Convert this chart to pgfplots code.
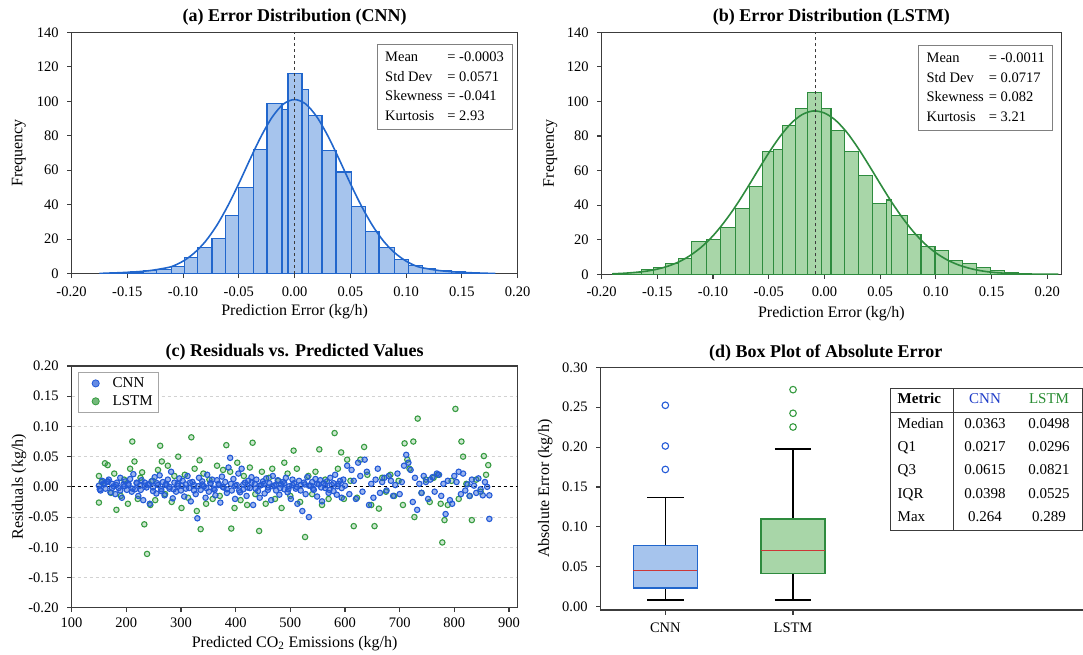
\documentclass[border=0pt]{standalone}
\usepackage{fontspec}
\setmainfont{Liberation Serif}
\usepackage{pgfplots}
\pgfplotsset{compat=1.18}
\usepgfplotslibrary{statistics}

\definecolor{cnnline}{RGB}{33,102,204}
\definecolor{cnnfill}{RGB}{166,196,237}
\definecolor{lstmline}{RGB}{46,139,62}
\definecolor{lstmfill}{RGB}{168,214,168}
\definecolor{cnnsc}{RGB}{35,90,215}
\definecolor{lstmsc}{RGB}{55,155,65}
\definecolor{medred}{RGB}{205,55,55}
\definecolor{framegray}{RGB}{60,60,60}
\definecolor{hdrblue}{RGB}{30,60,200}
\definecolor{hdrgreen}{RGB}{40,140,50}

\newcommand{\tickfont}{\fontsize{14.5}{16}\selectfont}
\newcommand{\labfont}{\fontsize{16}{18}\selectfont}
\newcommand{\boxfont}{\fontsize{14.5}{19.8}\selectfont}

\pgfplotsset{
  panel/.style={
    scale only axis, anchor=south west,
    tick pos=left, tick align=outside,
    major tick length=4.5pt,
    scaled ticks=false,
    axis line style={framegray, line width=1.1pt},
    every tick/.style={framegray, line width=1.1pt},
    tick label style={font=\tickfont},
    yticklabel style={xshift=-5pt},
    label style={font=\labfont},
    title style={font=\fontsize{18}{20}\selectfont\bfseries, anchor=center},
    /pgf/number format/assume math mode=true,
  },
  twodec/.style={/pgf/number format/.cd, fixed, fixed zerofill, precision=2, /tikz/.cd},
}

\begin{document}
\begin{tikzpicture}
\useasboundingbox (0pt,0pt) rectangle (1083pt,-655pt);

% ---------------- (a) CNN histogram
\begin{axis}[panel, at={(71.6pt,-273.7pt)}, width=446pt, height=241.4pt,
  xmin=-0.2, xmax=0.2, ymin=0, ymax=140,
  xtick={-0.2,-0.15,-0.1,-0.05,0,0.05,0.1,0.15,0.2},
  ytick={0,20,40,60,80,100,120,140},
  xticklabel style={twodec, yshift=-5pt},
  title={(a) Error Distribution (CNN)},
  title style={at={(axis description cs:0.5,1.0373)}},
  xlabel={Prediction Error (kg/h)},
  xlabel style={at={(axis description cs:0.5,-0.157)}, anchor=center},
  ylabel={Frequency},
  ylabel style={at={(axis description cs:-0.118,0.5)}, anchor=center},
]
\addplot[ybar interval, fill=cnnfill, draw=cnnline, line width=1.1pt] coordinates {
(-0.173,0.3) (-0.158,0.6) (-0.1475,1.0) (-0.1355,1.6) (-0.1235,2.5) (-0.1107,4.2)
(-0.0987,9.5) (-0.0867,15) (-0.0741,20.3) (-0.0622,34) (-0.0503,50.2) (-0.0368,71.8)
(-0.0248,98.5) (-0.0113,95.4) (-0.0059,116.2) (0.0066,107) (0.0126,92) (0.0246,71.4)
(0.0371,59) (0.051,38.9) (0.0634,24.5) (0.0757,15.3) (0.0897,8.3) (0.102,5)
(0.1144,2.9) (0.1267,2.1) (0.1407,1.2) (0.153,0.6) (0.1654,0.3) (0.1793,0)};
\addplot[cnnline, line width=1.6pt, smooth] coordinates {
(-0.175,0.1) (-0.17,0.3) (-0.16,0.5) (-0.15,0.8) (-0.14,1.2) (-0.13,1.8) (-0.12,2.8)
(-0.11,4.2) (-0.10,7.3) (-0.09,12.0) (-0.08,18.7) (-0.07,27.8) (-0.06,39.2) (-0.05,52.3)
(-0.04,66.3) (-0.03,79.7) (-0.02,90.9) (-0.01,98.4) (0,101) (0.01,98.4) (0.02,90.9)
(0.03,79.7) (0.04,66.3) (0.05,52.3) (0.06,39.2) (0.07,27.8) (0.08,18.7) (0.09,12.0)
(0.10,7.3) (0.11,4.2) (0.12,2.8) (0.13,1.8) (0.14,1.2) (0.15,0.8) (0.16,0.5)
(0.17,0.3) (0.18,0.1)};
\addplot[framegray, dashed, line width=0.9pt] coordinates {(-0.0003,0) (-0.0003,140)};
\end{axis}
\node[draw=gray, fill=white, line width=0.8pt, anchor=north east, inner xsep=8pt,
  inner ysep=3pt, font=\boxfont] at (512.3pt,-44pt) {%
  \begin{tabular}{@{}l@{\hspace{5pt}}l@{}}
  Mean & = -0.0003\\ Std Dev & = 0.0571\\ Skewness & = -0.041\\ Kurtosis & = 2.93
  \end{tabular}};

% ---------------- (b) LSTM histogram
\begin{axis}[panel, at={(601.6pt,-274.3pt)}, width=459.6pt, height=242pt,
  xmin=-0.2, xmax=0.2125, ymin=0, ymax=140,
  xtick={-0.2,-0.15,-0.1,-0.05,0,0.05,0.1,0.15,0.2},
  ytick={0,20,40,60,80,100,120,140},
  xticklabel style={twodec, yshift=-5pt},
  title={(b) Error Distribution (LSTM)},
  title style={at={(axis description cs:0.5,1.0372)}},
  xlabel={Prediction Error (kg/h)},
  xlabel style={at={(axis description cs:0.5,-0.161)}, anchor=center},
  ylabel={Frequency},
  ylabel style={at={(axis description cs:-0.1114,0.5)}, anchor=center},
]
\addplot[ybar interval, fill=lstmfill, draw=lstmline, line width=1.1pt] coordinates {
(-0.19,0.4) (-0.1765,1.2) (-0.164,3) (-0.1535,4) (-0.143,6) (-0.131,9) (-0.119,19)
(-0.1056,20) (-0.093,27) (-0.0795,38) (-0.067,51) (-0.0553,71) (-0.046,72) (-0.0373,86)
(-0.0257,96) (-0.0153,105) (-0.0023,96) (0.0059,83) (0.0183,71) (0.0308,57) (0.0432,41)
(0.0557,43) (0.0603,34) (0.0743,23) (0.0867,16) (0.0992,14) (0.1116,8) (0.124,6)
(0.1365,4) (0.149,2) (0.1614,1) (0.1738,0.5) (0.1862,0)};
\addplot[lstmline, line width=1.6pt, smooth] coordinates {
(-0.19,0.3) (-0.18,0.6) (-0.17,1.1) (-0.16,1.8) (-0.15,3.0) (-0.14,4.8) (-0.13,7.4)
(-0.12,11.1) (-0.11,16.0) (-0.10,22.3) (-0.09,30.1) (-0.08,39.1) (-0.07,49.2) (-0.06,59.8)
(-0.05,70.2) (-0.04,79.6) (-0.03,87.3) (-0.02,92.4) (-0.01,94.5) (0,93.3) (0.01,89.1)
(0.02,82.2) (0.03,73.2) (0.04,63.0) (0.05,52.4) (0.06,42.1) (0.07,32.7) (0.08,24.5)
(0.09,17.7) (0.10,12.4) (0.11,8.4) (0.12,5.5) (0.13,3.5) (0.14,2.1) (0.15,1.2)
(0.16,0.7) (0.17,0.4) (0.18,0.2) (0.19,0.1) (0.20,0.05) (0.21,0.02)};
\addplot[framegray, dashed, line width=0.9pt] coordinates {(-0.008,0) (-0.008,140)};
\end{axis}
\node[draw=gray, fill=white, line width=0.8pt, anchor=north east, inner xsep=8pt,
  inner ysep=3pt, font=\boxfont] at (1053.2pt,-45pt) {%
  \begin{tabular}{@{}l@{\hspace{5pt}}l@{}}
  Mean & = -0.0011\\ Std Dev & = 0.0717\\ Skewness & = 0.082\\ Kurtosis & = 3.21
  \end{tabular}};

% ---------------- (c) residual scatter
\begin{axis}[panel, at={(71.6pt,-607.7pt)}, width=446pt, height=241.7pt,
  xmin=100, xmax=915.7, ymin=-0.2, ymax=0.2,
  xtick={100,200,300,400,500,600,700,800,900},
  ytick={-0.2,-0.15,-0.1,-0.05,0,0.05,0.1,0.15,0.2},
  xticklabel style={yshift=-2pt},
  yticklabel style={twodec},
  ymajorgrids, grid style={dashed, gray!35, line width=0.8pt},
  title={(c) Residuals vs. Predicted Values},
  title style={at={(axis description cs:0.5,1.0343)}},
  xlabel={Predicted CO\textsubscript{2} Emissions (kg/h)},
  xlabel style={at={(axis description cs:0.5,-0.147)}, anchor=center},
  ylabel={Residuals (kg/h)},
  ylabel style={at={(axis description cs:-0.118,0.5)}, anchor=center},
  legend style={at={(0.015,0.974)}, anchor=north west, draw=gray!70, line width=0.8pt,
    font=\fontsize{15}{17}\selectfont, inner xsep=2pt, inner ysep=3pt, row sep=2.5pt,
    nodes={inner xsep=4pt}},
  legend cell align=left,
]
\addlegendimage{legend image code/.code={%
  \path[draw=none, fill=none] (0pt,0pt) -- (28pt,0pt);
  \draw[draw=cnnsc, fill=cnnsc!70, line width=0.8pt] (15pt,0pt) circle (3.6pt);}}
\addlegendentry{CNN}
\addlegendimage{legend image code/.code={%
  \path[draw=none, fill=none] (0pt,0pt) -- (28pt,0pt);
  \draw[draw=lstmsc, fill=lstmsc!70, line width=0.8pt] (15pt,0pt) circle (3.6pt);}}
\addlegendentry{LSTM}
\addplot[only marks, mark=*, mark size=2.7pt, forget plot,
  mark options={draw=lstmsc, fill=lstmsc, fill opacity=0.25, line width=1.1pt}] coordinates {
(150,0.018) (150,-0.026) (161,0.039) (182,-0.038) (211,0.075) (215,0.042) (233,-0.062)
(238,-0.111) (262,0.068) (265,0.042) (295,0.050) (319,0.082) (334,0.044) (336,-0.070)
(383,0.069) (390,0.025) (392,-0.069) (431,0.073) (443,-0.073) (489,0.040) (506,0.060)
(527,-0.083) (553,0.062) (581,0.089) (593,0.057) (616,-0.065) (635,0.066) (654,-0.065)
(706,-0.030) (709,0.072) (725,0.075) (727,-0.050) (733,0.113) (775,-0.028) (778,-0.092)
(782,-0.055) (802,0.129) (813,0.075) (816,0.050) (832,-0.055) (854,0.051) (862,0.036)
(155,0.008) (166,0.036) (172,-0.010) (178,0.022) (190,-0.015) (196,0.012) (203,-0.028)
(207,0.030) (221,-0.020) (226,0.015) (229,0.024) (244,-0.030) (248,0.010) (253,-0.022)
(258,0.028) (271,-0.012) (276,0.035) (283,-0.025) (288,0.018) (301,-0.035) (307,0.020)
(313,-0.018) (325,0.030) (329,-0.040) (341,0.022) (346,-0.028) (352,0.012) (358,-0.020)
(366,0.035) (371,-0.015) (377,0.028) (398,-0.035) (403,0.040) (409,-0.022) (415,0.018)
(421,-0.030) (426,0.032) (436,-0.012) (448,0.025) (455,-0.028) (461,0.015) (467,0.030)
(472,-0.020) (478,0.010) (484,-0.035) (495,0.022) (500,-0.015) (512,0.030) (518,-0.025)
(533,0.018) (540,-0.012) (546,0.025) (558,-0.030) (564,0.012) (570,-0.020) (587,0.030)
(598,-0.020) (604,0.045) (610,0.010) (622,-0.018) (628,0.045) (641,0.020) (648,-0.030)
(662,-0.036) (668,0.015) (675,-0.008) (683,0.020) (690,-0.015) (698,0.010) (714,0.045)
(718,0.030) (740,-0.010) (748,0.012) (755,-0.025) (762,0.015) (770,0.020) (788,-0.030)
(795,0.010) (808,-0.020) (822,0.005) (828,-0.015) (840,0.012) (848,-0.008) (858,0.020)};
\addplot[only marks, mark=*, mark size=2.7pt, forget plot,
  mark options={draw=cnnsc, fill=cnnsc, fill opacity=0.45, line width=1.1pt}] coordinates {
(150,0.002) (153,-0.006) (156,0.010) (159,0.004) (162,-0.003) (165,0.008) (168,0.012)
(171,-0.009) (174,0.005) (177,0.001) (180,-0.012) (183,0.007) (186,-0.002) (189,0.015)
(192,-0.018) (195,0.004) (198,0.009) (201,-0.005) (204,0.003) (207,0.013) (210,-0.008)
(213,0.021) (216,-0.004) (219,0.006) (222,-0.015) (225,0.002) (228,0.011) (231,-0.022)
(234,0.007) (237,-0.001) (240,0.004) (243,-0.028) (246,0.009) (249,-0.007) (252,0.016)
(255,-0.011) (258,0.003) (261,0.019) (264,-0.004) (267,0.008) (270,-0.014) (273,0.005)
(276,0.012) (279,-0.003) (282,0.025) (285,-0.019) (288,0.007) (291,-0.008) (294,0.002)
(297,0.014) (300,-0.006) (303,0.010) (306,-0.016) (309,0.004) (312,0.018) (315,-0.002)
(318,-0.024) (321,0.008) (324,0.003) (327,-0.012) (330,-0.052) (333,0.015) (336,-0.005)
(339,0.009) (342,0.001) (345,-0.018) (348,0.020) (351,-0.008) (354,0.006) (357,0.012)
(360,-0.003) (363,-0.014) (366,0.011) (369,0.005) (372,-0.026) (375,0.017) (378,-0.001)
(381,0.008) (384,-0.010) (387,0.032) (390,0.048) (393,-0.006) (396,0.013) (399,-0.020)
(402,0.003) (405,0.022) (408,-0.009) (411,0.030) (414,-0.004) (417,0.007) (420,-0.015)
(423,0.010) (426,-0.002) (429,0.016) (432,-0.030) (435,0.005) (438,0.012) (441,-0.007)
(444,-0.018) (447,0.003) (450,0.009) (453,-0.011) (456,0.014) (459,-0.001) (462,0.006)
(465,-0.022) (468,0.018) (471,0.002) (474,-0.006) (477,0.011) (480,-0.013) (483,0.004)
(486,0.008) (489,-0.004) (492,0.015) (495,-0.009) (498,0.001) (501,-0.020) (504,0.012)
(507,0.006) (510,-0.003) (513,-0.028) (516,0.010) (519,0.003) (522,-0.040) (525,0.007)
(528,-0.012) (531,0.016) (534,-0.050) (537,0.002) (540,0.008) (543,-0.005) (546,0.013)
(549,-0.016) (552,0.004) (555,0.011) (558,-0.024) (561,0.006) (564,-0.002) (567,0.009)
(570,-0.010) (573,0.015) (576,0.003) (579,-0.007) (582,0.020) (585,-0.013) (588,0.005)
(591,0.010) (594,-0.018) (597,0.012) (600,0.002)
(604,0.035) (608,-0.012) (612,0.028) (616,0.010) (620,-0.020) (624,0.040) (628,0.018)
(632,-0.008) (636,0.045) (640,0.025) (644,-0.030) (648,0.005) (652,-0.018) (656,0.012)
(660,0.030) (664,-0.010) (668,0.008) (672,0.015) (676,-0.006) (680,0.018) (684,0.010)
(688,-0.015) (692,0.003) (696,0.022) (700,-0.012) (704,0.008) (708,0.035) (712,0.053)
(716,0.040) (720,0.028) (724,-0.025) (728,0.015) (732,-0.038) (736,0.005) (740,-0.010)
(744,0.018) (748,0.008) (752,-0.020) (756,0.012) (760,0.016) (764,-0.008) (768,0.022)
(772,0.020) (776,-0.015) (780,0.005) (784,-0.045) (788,0.010) (792,-0.022) (796,-0.028)
(800,0.018) (804,0.008) (808,0.025) (812,-0.012) (816,0.022) (820,-0.006) (824,0.004)
(828,-0.015) (832,0.012) (836,0.002) (840,-0.010) (844,0.014) (848,-0.004) (852,-0.014)
(856,0.008) (860,0.000) (864,-0.053) (864,-0.014)
(151.5,-0.004) (159,0.006) (166.5,0.009) (174,-0.002) (181.5,0.003) (189,-0.006)
(196.5,0.001) (204,0.005) (211.5,-0.003) (219,0.007) (226.5,-0.005) (234,0.002)
(241.5,0.004) (249,-0.001) (256.5,0.006) (264,-0.007) (271.5,0.003) (279,0.000)
(286.5,-0.004) (294,0.005) (301.5,0.002) (309,-0.003) (316.5,0.007) (324,-0.006)
(331.5,0.001) (339,0.004) (346.5,-0.002) (354,0.006) (361.5,-0.005) (369,0.003)
(376.5,0.000) (384,-0.004) (391.5,0.005) (399,0.002) (406.5,-0.006) (414,0.004)
(421.5,-0.001) (429,0.007) (436.5,-0.003) (444,0.002) (451.5,0.005) (459,-0.005)
(466.5,0.001) (474,0.004) (481.5,-0.002) (489,0.006) (496.5,-0.004) (504,0.003)
(511.5,0.000) (519,-0.006) (526.5,0.004) (534,0.002) (541.5,-0.003) (549,0.005)
(556.5,-0.001) (564,0.003) (571.5,-0.005) (579,0.006) (586.5,0.001) (594,-0.002)};
\addplot[black, dashed, line width=1.1pt, forget plot] coordinates {(100,0) (915.7,0)};
\end{axis}

% ---------------- (d) box plot
\begin{axis}[panel, at={(600.6pt,-610pt)}, width=499.4pt, height=242.7pt,
  xmin=0.493, xmax=4.404, ymin=-0.0041, ymax=0.3,
  xtick={1,2}, xticklabels={CNN,LSTM},
  xticklabel style={yshift=-5pt},
  ytick={0,0.05,0.1,0.15,0.2,0.25,0.3},
  yticklabel style={twodec},
  title={(d) Box Plot of Absolute Error},
  title style={at={(axis description cs:0.4507,1.033)}},
  ylabel={Absolute Error (kg/h)},
  ylabel style={at={(axis description cs:-0.111,0.5)}, anchor=center},
  boxplot/draw direction=y,
]
\addplot+[boxplot prepared={draw position=1, lower whisker=0.0084, lower quartile=0.0234,
    median=0.0451, upper quartile=0.0769, upper whisker=0.137,
    box extend=0.5, whisker extend=0.285},
  solid, draw=cnnline, fill=cnnfill, line width=1.3pt, mark=none,
  boxplot/every whisker/.style={draw=black, line width=1.2pt},
  boxplot/every median/.style={draw=medred, line width=1pt}]
  coordinates {};
\addplot+[boxplot prepared={draw position=2, lower whisker=0.0084, lower quartile=0.0418,
    median=0.0702, upper quartile=0.1099, upper whisker=0.1977,
    box extend=0.5, whisker extend=0.285},
  solid, draw=lstmline, fill=lstmfill, line width=1.3pt, mark=none,
  boxplot/every whisker/.style={draw=black, line width=1.2pt},
  boxplot/every median/.style={draw=medred, line width=1pt}]
  coordinates {};
\addplot[only marks, mark=o, mark size=3.3pt, mark options={draw=cnnsc, line width=1.1pt}]
  coordinates {(1,0.172) (1,0.2014) (1,0.2524)};
\addplot[only marks, mark=o, mark size=3.3pt, mark options={draw=lstmsc, line width=1.1pt}]
  coordinates {(2,0.2252) (2,0.2424) (2,0.272)};
\end{axis}

% summary table in (d)
\begin{scope}[font=\fontsize{15}{17}\selectfont]
\fill[white] (890.5pt,-388.3pt) rectangle (1082.3pt,-530.7pt);
\draw[framegray, line width=1.1pt] (890.5pt,-388.3pt) rectangle (1082.3pt,-530.7pt);
\draw[framegray, line width=1.1pt] (953.3pt,-388.3pt) -- (953.3pt,-530.7pt);
\draw[framegray, line width=1.1pt] (890.5pt,-412.7pt) -- (1082.3pt,-412.7pt);
\node[anchor=mid west, inner sep=0pt] at (897.5pt,-401.7pt) {\textbf{Metric}};
\node[anchor=mid, inner sep=0pt, text=hdrblue] at (985pt,-401.7pt) {CNN};
\node[anchor=mid, inner sep=0pt, text=hdrgreen] at (1049pt,-401.7pt) {LSTM};
\node[anchor=mid west, inner sep=0pt] at (897.5pt,-426pt) {Median};
\node[anchor=mid, inner sep=0pt] at (985pt,-426pt) {0.0363};
\node[anchor=mid, inner sep=0pt] at (1049pt,-426pt) {0.0498};
\node[anchor=mid west, inner sep=0pt] at (897.5pt,-449pt) {Q1};
\node[anchor=mid, inner sep=0pt] at (985pt,-449pt) {0.0217};
\node[anchor=mid, inner sep=0pt] at (1049pt,-449pt) {0.0296};
\node[anchor=mid west, inner sep=0pt] at (897.5pt,-472pt) {Q3};
\node[anchor=mid, inner sep=0pt] at (985pt,-472pt) {0.0615};
\node[anchor=mid, inner sep=0pt] at (1049pt,-472pt) {0.0821};
\node[anchor=mid west, inner sep=0pt] at (897.5pt,-495.7pt) {IQR};
\node[anchor=mid, inner sep=0pt] at (985pt,-495.7pt) {0.0398};
\node[anchor=mid, inner sep=0pt] at (1049pt,-495.7pt) {0.0525};
\node[anchor=mid west, inner sep=0pt] at (897.5pt,-519pt) {Max};
\node[anchor=mid, inner sep=0pt] at (985pt,-519pt) {0.264};
\node[anchor=mid, inner sep=0pt] at (1049pt,-519pt) {0.289};
\end{scope}
\end{tikzpicture}
\end{document}
